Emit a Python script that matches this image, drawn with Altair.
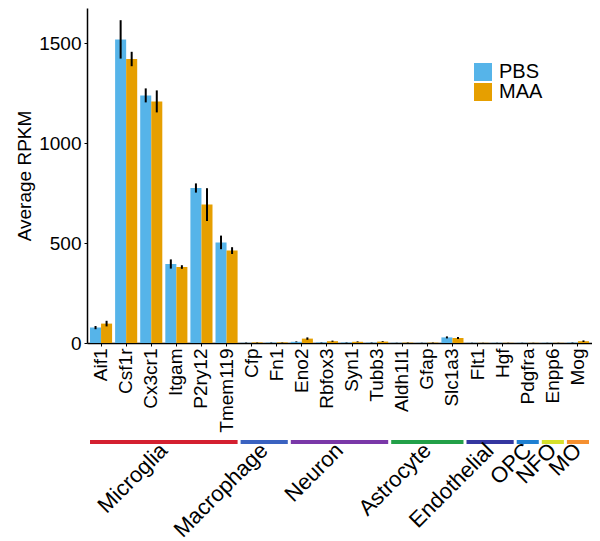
import altair as alt
import pandas as pd

genes = ["Aif1", "Csf1r", "Cx3cr1", "Itgam", "P2ry12", "Tmem119", "Cfp", "Fn1",
         "Eno2", "Rbfox3", "Syn1", "Tubb3", "Aldh1l1", "Gfap", "Slc1a3", "Flt1",
         "Hgf", "Pdgfra", "Enpp6", "Mog"]
pbs_mean = [77, 1518, 1238, 395, 775, 503, 1, 2, 6, 3, 2, 2, 1, 1, 28, 1, 1, 1, 1, 2]
pbs_err = [8, 96, 35, 23, 23, 34, 1, 1, 2, 1, 1, 1, 0.5, 0.5, 5, 0.5, 0.5, 0.5, 0.5, 1]
maa_mean = [97, 1420, 1208, 380, 692, 462, 3, 3, 22, 9, 6, 7, 2, 2, 25, 1, 1, 1, 1, 9]
maa_err = [14, 36, 55, 9, 82, 17, 1, 1, 6, 3, 2, 2, 1, 1, 5, 0.5, 0.5, 0.5, 0.5, 4]

conditions = ["PBS", "MAA"]
cond_colors = ["#56B4E9", "#E69F00"]

cell_types = ["Microglia", "Macrophage", "Neuron", "Astrocyte", "Endothelial", "OPC", "NFO", "MO"]
ct_first = ["Aif1", "Cfp", "Eno2", "Aldh1l1", "Flt1", "Pdgfra", "Enpp6", "Mog"]
ct_last = ["Tmem119", "Fn1", "Tubb3", "Slc1a3", "Hgf", "Pdgfra", "Enpp6", "Mog"]
ct_colors = ["#D42030", "#3A62C0", "#7A38A8", "#22A048", "#3436A0", "#1F80D2", "#D6E02C", "#F59030"]

FONT = "Liberation Sans"
PAD_IN = 0.12
PAD_OUT = 0.12

rows = []
for cond, means, errs in (("PBS", pbs_mean, pbs_err), ("MAA", maa_mean, maa_err)):
    for g, m, e in zip(genes, means, errs):
        rows.append({"gene": g, "condition": cond, "value": m,
                     "lo": max(m - e, 0), "hi": m + e})
df = pd.DataFrame(rows)

ct = pd.DataFrame({"group": cell_types, "first": ct_first, "last": ct_last})
ct["mid"] = [(2 * PAD_OUT + genes.index(f) + genes.index(l) + 1 - PAD_IN) / 2
             for f, l in zip(ct_first, ct_last)]
n_span = len(genes) - PAD_IN + 2 * PAD_OUT

xscale = alt.Scale(domain=genes, paddingInner=PAD_IN, paddingOuter=PAD_OUT)
xaxis = alt.Axis(title=None, labelAngle=270, labelAlign="right", labelBaseline="middle",
                 labelFontSize=19, tickSize=3, labelPadding=2, domainWidth=1.5,
                 tickWidth=1)
yscale = alt.Scale(domain=[0, 1675], nice=False)
yaxis = alt.Axis(title="Average RPKM", values=[0, 500, 1000, 1500], format="d",
                 labelFontSize=19, titleFontSize=19, titleFontWeight="normal",
                 tickSize=3, labelPadding=3, titlePadding=4, domainWidth=1.5, grid=False)

base = alt.Chart(df)

bars = base.mark_bar().encode(
    x=alt.X("gene:N", scale=xscale, axis=xaxis, sort=genes),
    xOffset=alt.XOffset("condition:N", sort=conditions, scale=alt.Scale(domain=conditions)),
    y=alt.Y("value:Q", scale=yscale, axis=yaxis),
    fill=alt.Fill("condition:N", scale=alt.Scale(domain=conditions, range=cond_colors),
                  legend=alt.Legend(title=None, orient="none", legendX=386, legendY=54,
                                    symbolType="square", symbolSize=324,
                                    symbolStrokeWidth=0, labelFontSize=20,
                                    labelOffset=6, rowPadding=0, padding=0,
                                    labelColor="black")),
)

errs = base.mark_rule(color="black", strokeWidth=2).encode(
    x=alt.X("gene:N", scale=xscale, axis=xaxis, sort=genes),
    xOffset=alt.XOffset("condition:N", sort=conditions, scale=alt.Scale(domain=conditions)),
    y=alt.Y("lo:Q", scale=yscale, axis=yaxis),
    y2="hi:Q",
)

lines = alt.Chart(ct).mark_rule(strokeWidth=4, strokeCap="butt").encode(
    x=alt.X("first:N", scale=xscale, axis=xaxis, bandPosition=0),
    x2=alt.X2("last:N", bandPosition=1),
    y=alt.value(434),
    stroke=alt.Stroke("group:N", scale=alt.Scale(domain=cell_types, range=ct_colors),
                      legend=None),
)

labels = alt.Chart(ct).mark_text(angle=315, align="right", baseline="middle",
                                 fontSize=22, font=FONT, color="black").encode(
    x=alt.X("mid:Q", scale=alt.Scale(domain=[0, n_span], nice=False, zero=False), axis=None),
    y=alt.value(439),
    text="group:N",
)

inner = alt.layer(bars, errs, lines)
chart = alt.layer(inner, labels).resolve_scale(x="independent").properties(
    width=505, height=335,
    padding={"left": 79, "top": 0, "right": 0, "bottom": 198},
    autosize="none",
).configure(font=FONT).configure_view(stroke=None).configure_axis(
    domainColor="black", tickColor="black", labelColor="black", titleColor="black",
    labelFont=FONT, titleFont=FONT,
).configure_legend(labelFont=FONT)

chart.save("out.html", embed_options={"renderer": "svg", "actions": False})
